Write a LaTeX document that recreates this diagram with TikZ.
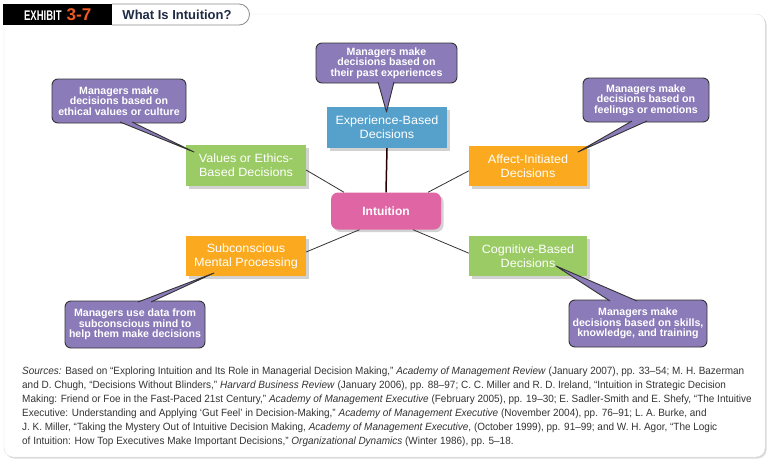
\documentclass[tikz,border=0pt]{standalone}
\usepackage{fontspec}
\setmainfont{Liberation Sans}
\newfontfamily\notefont[FakeStretch=0.95]{Liberation Sans}
\newfontfamily\condfont[FakeStretch=0.68]{Liberation Sans}
\newfontfamily\boxfont[FakeStretch=1.05]{Liberation Sans}
\newfontfamily\bubfont[FakeStretch=1.0]{Liberation Sans}
\usetikzlibrary{shadows,calc}
\definecolor{cblue}{HTML}{55A1CB}
\definecolor{cgreen}{HTML}{9BCB65}
\definecolor{corange}{HTML}{FBAA1F}
\definecolor{cpink}{HTML}{E065A5}
\definecolor{cpurple}{HTML}{8B7BB9}
\definecolor{exorange}{HTML}{F15A22}
\definecolor{navy}{HTML}{1F2A44}
\definecolor{notegray}{HTML}{333333}
\begin{document}
\begin{tikzpicture}[x=1pt,y=-1pt,
  box/.style={minimum height=41, text=white, align=center, inner sep=0,
    font=\boxfont\fontsize{12}{14}\selectfont,
    drop shadow={opacity=0.35, shadow xshift=2.5pt, shadow yshift=-2.5pt}},
  bubble/.style={fill=cpurple, draw=black!80, line width=0.9, rounded corners=6,
    text=white, align=center, inner sep=0,
    font=\bubfont\bfseries\fontsize{10.6}{10.6}\selectfont},
  ptr/.style={fill=cpurple, draw=black!80, line width=0.9, line join=round},
  conn/.style={draw=black!80, line width=0.8}]
\useasboundingbox (0,0) rectangle (780,469);
% card
\draw[draw=black!12, fill=white, rounded corners=9,
  drop shadow={opacity=0.3, shadow xshift=1.5pt, shadow yshift=-1.5pt}]
  (4,14) rectangle (765,457);
% header
\node[fill=black, minimum width=109, minimum height=21, inner sep=0, anchor=north west] (exh) at (3,4)
  {{\condfont\bfseries\fontsize{14}{12}\selectfont\color{white}EXHIBIT}\hspace{5pt}{\color{exorange}\bfseries\fontsize{17}{16}\selectfont 3-7}};
\draw[fill=white, draw=black!45, line width=0.8] (112,4) -- (239,4) arc[start angle=-90, end angle=90, radius=10.5] -- (112,25);
\node[text=navy, font=\bfseries\fontsize{13}{13}\selectfont] (title) at (177,14.5) {What Is Intuition?};
% boxes
\node[box, fill=cblue, minimum width=120] (exp) at (387,127.5) {Experience-Based\\Decisions};
\node[box, fill=cgreen, minimum width=120] (val) at (246,165.5) {Values or Ethics-\\Based Decisions};
\node[box, fill=corange, minimum width=118, minimum height=40] (aff) at (528,166) {Affect-Initiated\\Decisions};
\node[box, fill=cpink, minimum width=110, minimum height=37, rounded corners=7,
  font=\bfseries\fontsize{12}{14}\selectfont] (int) at (386,211) {Intuition};
\node[box, fill=corange, minimum width=120, minimum height=40] (sub) at (246,256) {Subconscious\\Mental Processing};
\node[box, fill=cgreen, minimum width=118, minimum height=40] (cog) at (528,256) {Cognitive-Based\\Decisions};
% connectors
\draw[draw=black!85!red, line width=1.5] (exp.south) -- (int.north);
\draw[conn] ($(val.north east)!0.61!(val.south east)$) -- ($(int.north west)!0.12!(int.north east)$);
\draw[conn] ($(aff.north west)!0.62!(aff.south west)$) -- ($(int.north west)!0.88!(int.north east)$);
\draw[conn] ($(int.south west)!0.26!(int.south east)$) -- ($(sub.north east)!0.4!(sub.south east)$);
\draw[conn] ($(int.south west)!0.745!(int.south east)$) -- ($(cog.north west)!0.43!(cog.south west)$);
% bubbles
\node[bubble, minimum width=141, minimum height=40] (bexp) at (386.5,63) {Managers make\\decisions based on\\their past experiences};
\node[bubble, minimum width=134, minimum height=44] (bval) at (119,101) {Managers make\\decisions based on\\ethical values or culture};
\node[bubble, minimum width=126, minimum height=44] (baff) at (646,100) {Managers make\\decisions based on\\feelings or emotions};
\node[bubble, minimum width=140, minimum height=47] (bsub) at (135,324.5) {Managers use data from\\subconscious mind to\\help them make decisions};
\node[bubble, minimum width=138, minimum height=47] (bcog) at (638,323.5) {Managers make\\decisions based on skills,\\knowledge, and training};
% pointers
\coordinate (texp) at (386.5,112);
\coordinate (tval) at (194,152);
\coordinate (taff) at (578,152);
\coordinate (tsub) at (214,273);
\coordinate (tcog) at (556,266);
\filldraw[ptr] (378,82) -- (texp) -- (394,82);
\filldraw[ptr] (120,122) -- (tval) -- (132,122);
\filldraw[ptr] (632,121) -- (taff) -- (647,121);
\filldraw[ptr] (138,302) -- (tsub) -- (151,302);
\filldraw[ptr] (610,301) -- (tcog) -- (637,301);
% sources
\node[anchor=north west, align=left, inner sep=0, text=notegray,
  font=\notefont\fontsize{10.5}{14}\selectfont] (src) at (22,367) {%
\textit{Sources:} Based on “Exploring Intuition and Its Role in Managerial Decision Making,” \textit{Academy of Management Review} (January 2007), pp. 33–54; M. H. Bazerman\\
and D. Chugh, “Decisions Without Blinders,” \textit{Harvard Business Review} (January 2006), pp. 88–97; C. C. Miller and R. D. Ireland, “Intuition in Strategic Decision\\
Making: Friend or Foe in the Fast-Paced 21st Century,” \textit{Academy of Management Executive} (February 2005), pp. 19–30; E. Sadler-Smith and E. Shefy, “The Intuitive\\
Executive: Understanding and Applying ‘Gut Feel’ in Decision-Making,” \textit{Academy of Management Executive} (November 2004), pp. 76–91; L. A. Burke, and\\
J. K. Miller, “Taking the Mystery Out of Intuitive Decision Making, \textit{Academy of Management Executive}, (October 1999), pp. 91–99; and W. H. Agor, “The Logic\\
of Intuition: How Top Executives Make Important Decisions,” \textit{Organizational Dynamics} (Winter 1986), pp. 5–18.};
\end{tikzpicture}
\end{document}
